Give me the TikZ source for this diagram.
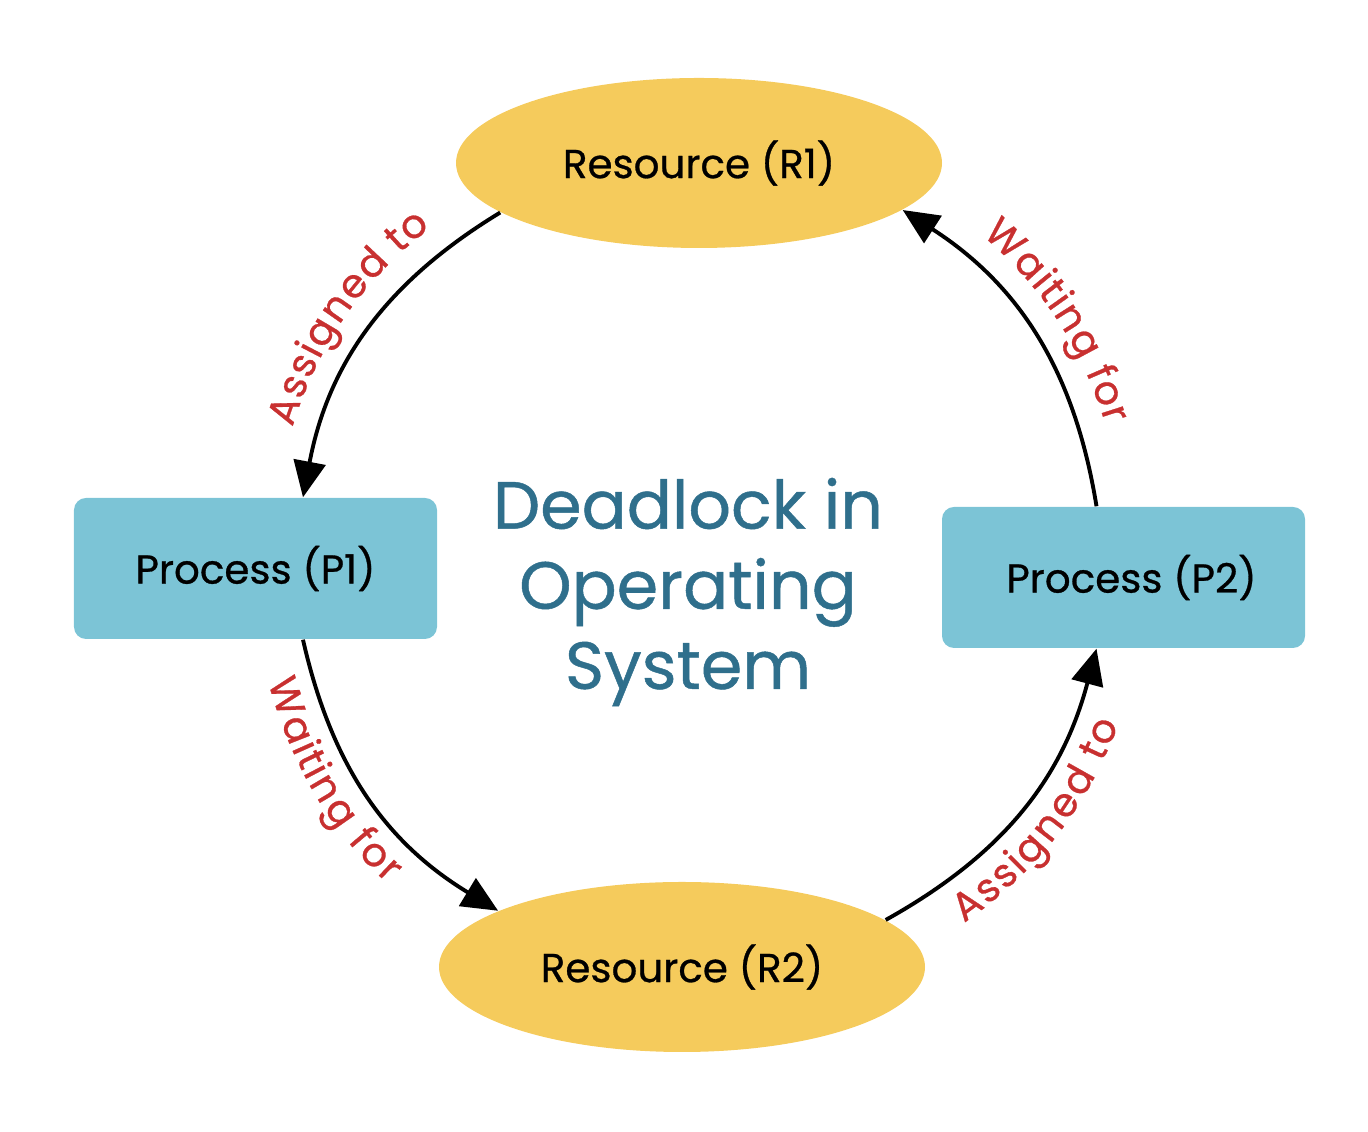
\documentclass[tikz,border=0pt]{standalone}
\usepackage{fontspec}
\setmainfont{Poppins}
\newfontfamily\medfont{Poppins}[FakeBold=0.7]
\usetikzlibrary{shapes.geometric,arrows.meta,decorations.text}

% Font for the red texts along the arrows
\newcommand{\linkfont}{\color{linkred}\medfont\fontsize{11.3}{13}\selectfont}

\begin{document}
\begin{tikzpicture}[
		resource/.style={ellipse, fill=resourcefill, minimum width=4.86cm, minimum height=1.70cm, inner sep=0pt, font=\medfont\fontsize{11.5}{13}\selectfont},
		process/.style={rectangle, rounded corners=0.12cm, fill=processfill, minimum width=3.63cm, minimum height=1.41cm, inner sep=0pt, font=\medfont\fontsize{11.5}{13}\selectfont},
		link/.style={line width=1.1pt, -{Triangle[length=0.36cm, width=0.32cm]}},
		textover/.style={postaction={decorate, decoration={text along path, reverse path, raise=0.27cm, text align=center, text={|\linkfont|#1}}}},
		textunder/.style 2 args={postaction={decorate, decoration={text along path, raise=-0.44cm, text align={center, right indent=#2}, text={|\linkfont|#1}}}},
	]
	% Defines colors to match the image
	\definecolor{resourcefill}{RGB}{245, 203, 92} % Yellow ellipses
	\definecolor{processfill}{RGB}{124, 196, 214} % Light blue boxes
	\definecolor{titleblue}{RGB}{47, 111, 140}    % Title in the middle
	\definecolor{linkred}{RGB}{200, 48, 48}       % Texts on the arrows
	
	% Picture size
	\useasboundingbox (0, 0) rectangle (13.68, 11.32);
	
	% --- Resources and processes ---
	\node[resource] (R1) at (6.99, 9.69) {Resource (R1)};
	\node[resource] (R2) at (6.82, 1.65) {Resource (R2)};
	\node[process] (P1) at (2.555, 5.635) {Process (P1)};
	\node[process] (P2) at (11.235, 5.545) {\hspace{0.16cm}Process (P2)};
	
	% --- Title ---
	\node[align=center, text=titleblue, font=\medfont\fontsize{19}{22.8}\selectfont] (title) at (6.88, 5.40) {Deadlock in\\Operating\\System};
	
	% --- Arrows ---
	% The four arrows form a circle round the title
	\draw[link, textover={Assigned to}] (R1.194) to[bend right=24] ([xshift=0.475cm]P1.north);
	\draw[link, textunder={Waiting for}{0.7cm}] ([xshift=0.475cm]P1.south) to[bend right=23] (R2.163);
	\draw[link, textunder={Assigned to}{0cm}] (R2.13) to[bend right=23] ([xshift=-0.27cm]P2.south);
	\draw[link, textover={Waiting for}] ([xshift=-0.27cm]P2.north) to[bend right=24] (R1.347);
	
\end{tikzpicture}
\end{document}
